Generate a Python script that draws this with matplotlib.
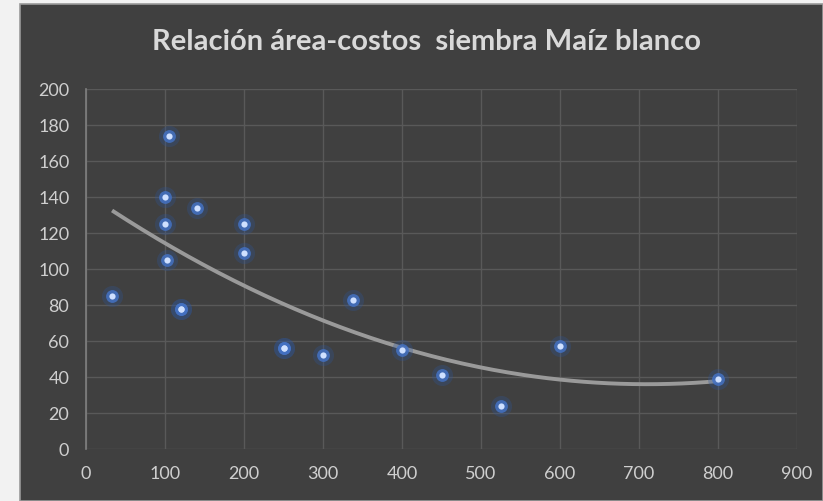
import numpy as np
import matplotlib.pyplot as plt
from matplotlib.patches import Rectangle

# area (x) vs costos (y) (brighter dots are doubled points)
area = [33, 100, 105, 100, 103, 120, 120, 140, 200, 200, 250, 250, 300, 338, 400, 450, 525, 600, 800]
costos = [85, 140, 174, 125, 105, 78, 78, 134, 125, 109, 56, 56, 52, 83, 55, 41, 24, 57, 39]

x_ticks = [0, 100, 200, 300, 400, 500, 600, 700, 800, 900]
y_ticks = [0, 20, 40, 60, 80, 100, 120, 140, 160, 180, 200]
title = 'Relación área-costos  siembra Maíz blanco'

BG = '#404040'
GRID = '#595959'
TXT = '#d9d9d9'
W, H = 823, 501

fig = plt.figure(figsize=(W / 100, H / 100), dpi=100, facecolor='#f2f2f2')
# dark chart area with thin border (drawn below the axes)
fig.patches.append(Rectangle((20 / W, 0), 1 - 20 / W, 1 - 4 / H, transform=fig.transFigure,
                             facecolor=BG, edgecolor='#9a9a9a', linewidth=1.2, zorder=-10))

ax = fig.add_axes([86 / W, 1 - 449 / H, (797 - 86) / W, (449 - 89) / H])
ax.set_facecolor(BG)
ax.set_xlim(0, 900)
ax.set_ylim(0, 200)
ax.set_xticks(x_ticks)
ax.set_yticks(y_ticks)
ax.grid(True, color=GRID, linewidth=1)
ax.set_axisbelow(True)
for s in ['top', 'right', 'bottom']:
    ax.spines[s].set_visible(False)
ax.spines['left'].set_color('#808080')
ax.spines['left'].set_linewidth(1.2)
ax.tick_params(length=0, colors='#cfcfcf', labelsize=13, pad=12)
for lab in ax.get_xticklabels() + ax.get_yticklabels():
    lab.set_family('Lato')

# polynomial (order 2) trendline, like the spreadsheet one
coef = np.polyfit(area, costos, 2)
xt = np.linspace(min(area), max(area), 200)
ax.plot(xt, np.polyval(coef, xt), color='#9a9a9a', linewidth=2.8, zorder=2,
        solid_capstyle='butt')

# glowing markers
ax.scatter(area, costos, s=230, color='#2f5597', alpha=0.3, linewidths=0, zorder=3)
ax.scatter(area, costos, s=85, color='#4472c4', alpha=0.85, linewidths=0, zorder=4)
ax.scatter(area, costos, s=20, color='#cfe0ff', linewidths=0, zorder=5)

fig.text(427 / W, 1 - 42 / H, title, ha='center', va='center', color=TXT,
         fontsize=21, fontweight='bold', family='Lato')

fig.savefig('out.png', dpi=100, facecolor=fig.get_facecolor())
